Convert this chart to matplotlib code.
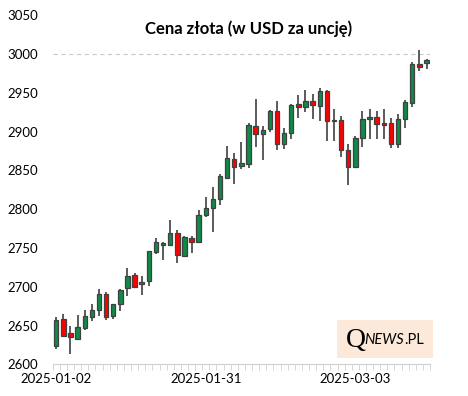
import numpy as np
import pandas as pd
import matplotlib
matplotlib.use("Agg")
import matplotlib.pyplot as plt
from matplotlib.patches import Rectangle

plt.rcParams['font.family'] = ['Lato', 'DejaVu Sans']

# notowania dzienne
dates = pd.bdate_range("2025-01-02", periods=53)
opens = [2624.2, 2658.3, 2640.2, 2632.8, 2647.5, 2660.5, 2669.5, 2690.7, 2663.0, 2677.3,
         2698.0, 2715.3, 2703.2, 2707.1, 2745.5, 2754.0, 2753.3, 2770.0, 2739.6, 2762.3,
         2757.6, 2792.8, 2801.0, 2813.8, 2840.0, 2865.3, 2856.3, 2858.4, 2907.8, 2897.5,
         2903.9, 2927.1, 2884.6, 2898.8, 2935.2, 2932.3, 2939.1, 2933.1, 2952.0, 2913.8,
         2915.5, 2876.9, 2854.6, 2892.4, 2916.4, 2919.0, 2910.8, 2911.7, 2884.6, 2916.8,
         2937.4, 2986.8, 2988.9]
highs = [2660.5, 2664.8, 2649.7, 2663.9, 2670.4, 2678.2, 2697.6, 2693.3, 2677.7, 2697.6,
         2724.8, 2718.3, 2714.0, 2746.8, 2763.2, 2758.4, 2785.5, 2773.0, 2765.4, 2765.4,
         2798.4, 2816.4, 2829.3, 2845.1, 2882.0, 2873.0, 2886.3, 2910.8, 2942.6, 2907.8,
         2928.4, 2939.6, 2905.2, 2936.1, 2946.9, 2954.2, 2949.0, 2955.9, 2953.3, 2929.7,
         2920.7, 2884.2, 2894.1, 2927.1, 2929.7, 2926.3, 2929.7, 2917.2, 2922.4, 2940.4,
         2989.3, 3004.8, 2994.1]
lows = [2620.3, 2635.8, 2613.8, 2631.5, 2644.5, 2655.3, 2663.0, 2656.6, 2657.9, 2668.2,
        2688.5, 2699.3, 2689.4, 2701.5, 2742.1, 2734.8, 2752.8, 2730.1, 2738.7, 2743.9,
        2757.0, 2790.2, 2770.9, 2805.7, 2838.7, 2832.7, 2852.0, 2853.3, 2880.3, 2863.6,
        2899.6, 2876.5, 2877.8, 2890.6, 2918.1, 2925.8, 2916.4, 2913.8, 2888.5, 2888.5,
        2867.5, 2831.8, 2854.6, 2880.8, 2890.6, 2890.6, 2890.2, 2879.5, 2879.5, 2905.2,
        2931.8, 2978.2, 2981.2]
closes = [2657.4, 2637.1, 2635.0, 2648.4, 2662.2, 2670.4, 2690.7, 2661.7, 2677.7, 2696.3,
          2714.0, 2699.7, 2706.7, 2746.0, 2757.2, 2756.5, 2770.0, 2740.4, 2764.5, 2758.0,
          2793.2, 2801.4, 2813.8, 2842.6, 2866.6, 2855.0, 2860.2, 2908.2, 2897.5, 2902.7,
          2927.1, 2884.6, 2898.8, 2934.8, 2932.3, 2939.1, 2934.8, 2952.0, 2913.8, 2915.5,
          2876.9, 2854.2, 2892.4, 2916.8, 2918.5, 2910.4, 2908.7, 2884.6, 2916.8, 2937.8,
          2986.8, 2983.8, 2991.9]
label_idx = [0, 21, 42]

o = np.array(opens)
c = np.array(closes)
x = np.arange(len(dates))
up = c >= o
colors = np.where(up, "#0f8a47", "#ff0000")

fig = plt.figure(figsize=(4.68, 3.96), dpi=100)
ax = fig.add_axes([0.1126, 0.0798, 0.8064, 0.8816])

ax.axhline(3000, color="#c8c8c8", lw=0.8, ls=(0, (4, 3)), zorder=0)

ax.vlines(x, lows, highs, color="#404040", lw=1.2, zorder=2)
bottoms = np.minimum(o, c)
heights = np.maximum(np.abs(c - o), 0.6)
ax.bar(x, heights, bottom=bottoms, width=0.62, color=colors,
       edgecolor="#404040", linewidth=0.9, zorder=3)

ax.set_xlim(-0.5, len(x) - 0.5)
ax.set_ylim(2600, 3050)
ax.set_yticks(np.arange(2600, 3051, 50))
ax.set_xticks(label_idx)
ax.set_xticklabels([dates[i].strftime("%Y-%m-%d") for i in label_idx])
ax.set_xticks(np.arange(-0.5, len(x), 1), minor=True)

for s in ["top", "right", "left"]:
    ax.spines[s].set_visible(False)
ax.spines["bottom"].set_color("#d0d0d0")
ax.tick_params(axis="y", length=0, pad=10.5, labelsize=9.5)
ax.tick_params(axis="x", which="major", length=0, pad=6, labelsize=9.5)
ax.tick_params(axis="x", which="minor", length=4, color="#d0d0d0")

fig.text(0.532, 0.928, "Cena złota (w USD za uncję)", ha="center", va="center",
         fontsize=12, fontweight="bold")

# znak wodny
fig.patches.append(Rectangle((337 / 468, 1 - 357.7 / 396), 96 / 468, 37.7 / 396,
                             transform=fig.transFigure, facecolor="#fde9da",
                             edgecolor="none", zorder=5))
q = fig.text(346 / 468, 1 - 347 / 396, "Q", fontsize=20, family="Liberation Serif",
             va="baseline", ha="left", zorder=6)
news = fig.text(364 / 468, 1 - 344.5 / 396, "NEWS", fontsize=10.5, style="italic",
                va="baseline", ha="left", zorder=6)
fig.canvas.draw()
bb = news.get_window_extent()
fig.text(bb.x1 / fig.bbox.width + 0.002, 1 - 344.5 / 396, ".PL", fontsize=10.5,
         va="baseline", ha="left", zorder=6)

fig.savefig("out.png", dpi=100)
